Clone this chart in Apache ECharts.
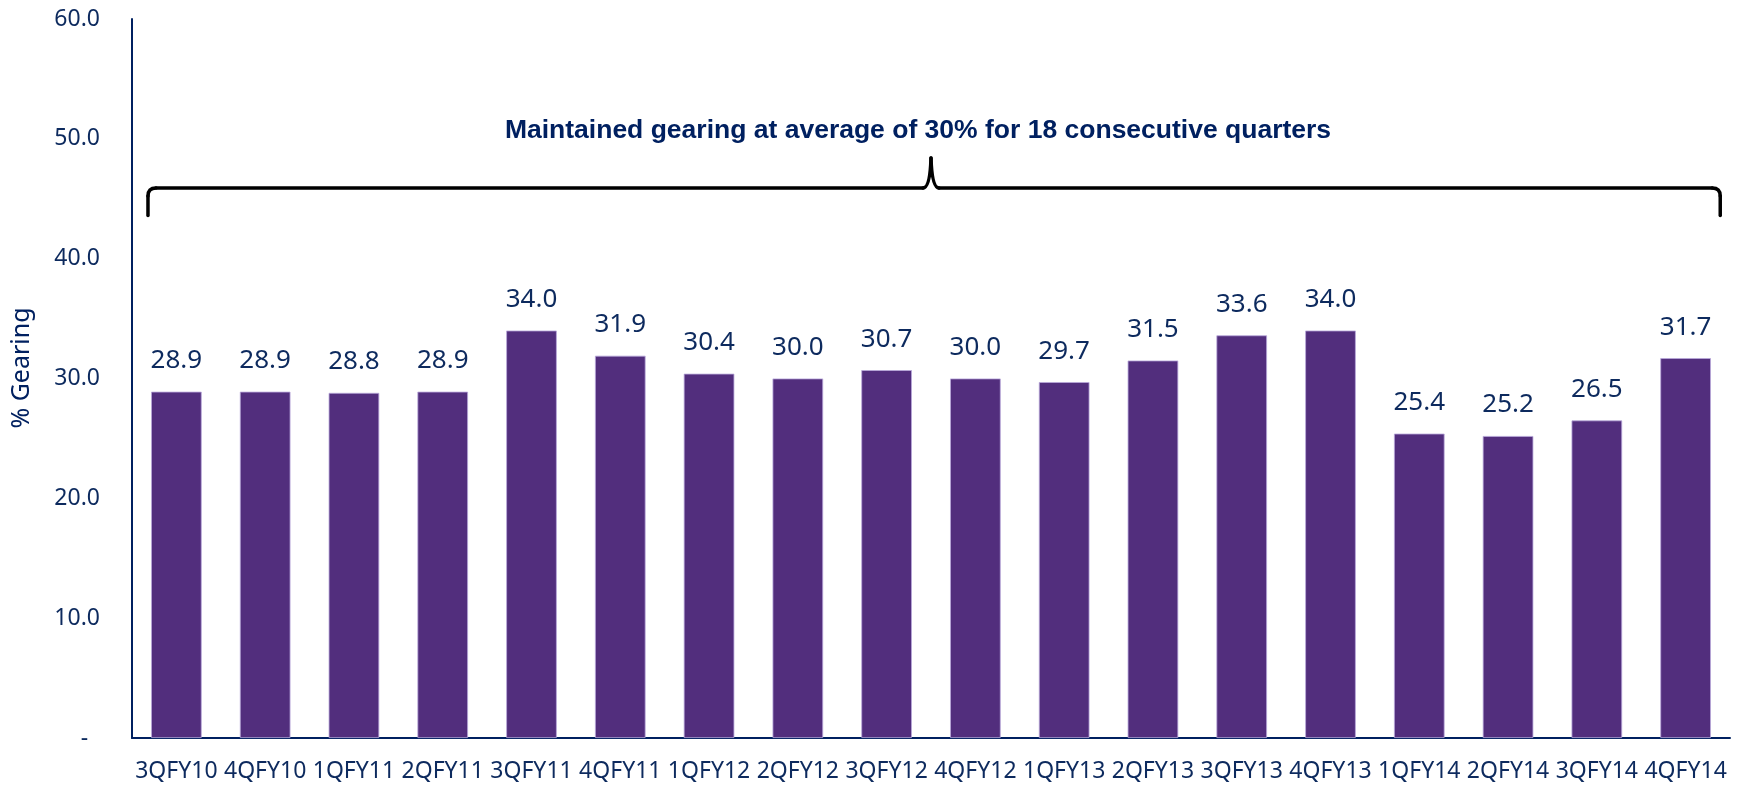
<!DOCTYPE html>
<html>
<head>
<meta charset="utf-8">
<script src="https://cdn.jsdelivr.net/npm/echarts@6/dist/echarts.min.js"></script>
<style>
html,body{margin:0;padding:0;background:#fff;}
#chart{width:1741px;height:786px;}
</style>
</head>
<body>
<div id="chart"></div>
<script>
var categories = ['3QFY10','4QFY10','1QFY11','2QFY11','3QFY11','4QFY11','1QFY12','2QFY12','3QFY12','4QFY12','1QFY13','2QFY13','3QFY13','4QFY13','1QFY14','2QFY14','3QFY14','4QFY14'];
var gearing = [28.9, 28.9, 28.8, 28.9, 34.0, 31.9, 30.4, 30.0, 30.7, 30.0, 29.7, 31.5, 33.6, 34.0, 25.4, 25.2, 26.5, 31.7];
var yTicks = {min: 0, max: 60, interval: 10};
var annotationText = 'Maintained gearing at average of 30% for 18 consecutive quarters';
var axisTitle = '% Gearing';

var NAVY = '#0D2A5E';
var AXIS = '#002060';
var BAR = '#522E7D';

var chart = echarts.init(document.getElementById('chart'), null, {renderer: 'canvas'});

var G = {left: 132, right: 11, top: 19, bottom: 48};

chart.setOption({
  animation: false,
  backgroundColor: '#ffffff',
  grid: {left: G.left, right: G.right, top: G.top, bottom: G.bottom, containLabel: false},
  xAxis: {
    type: 'category',
    data: categories,
    axisLine: {show: true, lineStyle: {color: AXIS, width: 2}},
    axisTick: {show: false},
    axisLabel: {interval: 0, color: NAVY, fontSize: 23, fontFamily: 'Noto Sans', margin: 22}
  },
  yAxis: {
    type: 'value',
    min: yTicks.min, max: yTicks.max, interval: yTicks.interval,
    splitLine: {show: false},
    axisLine: {show: true, lineStyle: {color: AXIS, width: 2}},
    axisTick: {show: false},
    axisLabel: {
      color: NAVY, fontSize: 23, fontFamily: 'Noto Sans', margin: 32,
      formatter: function (v) { return v === 0 ? '-  ' : v.toFixed(1); }
    }
  },
  series: [{
    type: 'bar',
    data: gearing,
    barCategoryGap: '43%',
    itemStyle: {color: BAR, borderColor: '#B9A8DA', borderWidth: 0.8},
    label: {
      show: true, position: 'top', distance: 18,
      color: NAVY, fontSize: 26, fontFamily: 'Noto Sans',
      formatter: function (p) { return p.value.toFixed(1); }
    }
  }]
});

// annotation: brace and text, placed from the axis scales
var xL = chart.convertToPixel({xAxisIndex: 0}, 0);
var xR = chart.convertToPixel({xAxisIndex: 0}, categories.length - 1);
var step = (xR - xL) / (categories.length - 1);
var left = xL - step * 0.32;
var right = xR + step * 0.39;
var mid = (xL + xR) / 2;
var yLine = chart.convertToPixel({yAxisIndex: 0}, 45.9);
var yEnd = chart.convertToPixel({yAxisIndex: 0}, 43.6);
var yTip = chart.convertToPixel({yAxisIndex: 0}, 48.4);
var r = 8;
var braceStyle = {stroke: '#000', lineWidth: 3.5, fill: null, lineCap: 'round'};

function ln(x1, y1, x2, y2) {
  return {type: 'line', shape: {x1: x1, y1: y1, x2: x2, y2: y2}, style: braceStyle, silent: true};
}
function qc(x1, y1, cx, cy, x2, y2) {
  return {type: 'bezierCurve', shape: {x1: x1, y1: y1, cpx1: cx, cpy1: cy, x2: x2, y2: y2}, style: braceStyle, silent: true};
}

var graphics = [
  ln(left, yEnd, left, yLine + r),
  qc(left, yLine + r, left, yLine, left + r, yLine),
  ln(left + r, yLine, mid - 8, yLine),
  qc(mid - 8, yLine, mid - 1, yLine, mid, yTip),
  qc(mid, yTip, mid + 1, yLine, mid + 8, yLine),
  ln(mid + 8, yLine, right - r, yLine),
  qc(right - r, yLine, right, yLine, right, yLine + r),
  ln(right, yLine + r, right, yEnd),
  {
    type: 'text',
    x: 918, y: 131,
    style: {
      text: annotationText, fill: AXIS, font: 'bold 26.5px "Liberation Sans", Arial, sans-serif',
      align: 'center', verticalAlign: 'middle'
    },
    silent: true
  },
  {
    type: 'text',
    x: 22, y: 368,
    rotation: Math.PI / 2,
    style: {
      text: axisTitle, fill: AXIS, font: '25px "Noto Sans", sans-serif',
      align: 'center', verticalAlign: 'middle'
    },
    silent: true
  }
];

chart.setOption({graphic: graphics});
</script>
</body>
</html>
